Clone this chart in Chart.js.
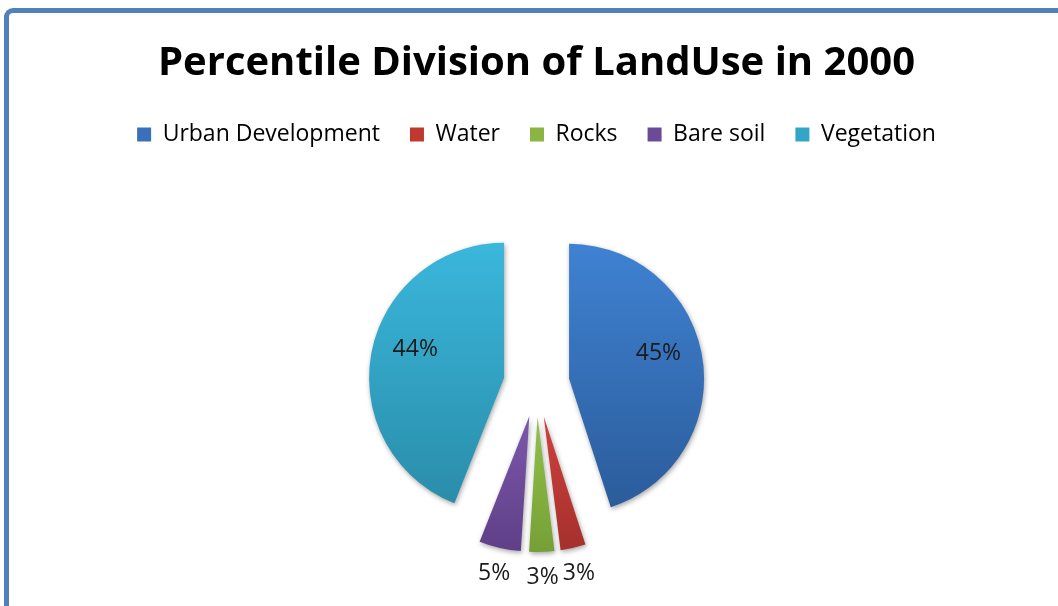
<!DOCTYPE html>
<html>
<head>
<meta charset="utf-8">
<title>Percentile Division of LandUse in 2000</title>
<script src="https://cdn.jsdelivr.net/npm/chart.js@4.4.1/dist/chart.umd.min.js"></script>
<style>
  html, body { margin: 0; padding: 0; background: #fff; overflow: hidden; }
  #frame {
    position: absolute; left: 4px; top: 8px; width: 1120px; height: 700px;
    border-left: 5px solid #4f81bd; border-top: 5px solid #4f81bd;
    border-top-left-radius: 9px;
  }
  #wrap { position: absolute; left: 0; top: 0; width: 1058px; height: 612px; }
</style>
</head>
<body>
<div id="frame"></div>
<div id="wrap"><canvas id="pieChart"></canvas></div>
<script>
// land use shares, percent of total area
var categories = ['Urban Development', 'Water', 'Rocks', 'Bare soil', 'Vegetation'];
var shares = [45, 3, 3, 5, 44];

// slice shading, light at the top of each slice and darker at the bottom
var topColors = ['#3f82d2', '#d0413d', '#93c04a', '#7c58ab', '#3ab7dc'];
var bottomColors = ['#2b5c9b', '#a5302d', '#76a036', '#5f3f88', '#2a8daa'];
var legendColors = ['#3a6fbb', '#c0392f', '#8ab443', '#6c4a9a', '#33a6c8'];

// pulls every slice out from the centre and draws its shaded wedge
var explodedPie = {
  id: 'explodedPie',
  beforeDatasetDraw: function(chart, args, opts) {
    var ctx = chart.ctx;
    args.meta.data.forEach(function(arc, i) {
      var p = arc.getProps(['x', 'y', 'startAngle', 'endAngle', 'outerRadius']);
      var mid = (p.startAngle + p.endAngle) / 2;
      var top = p.y, bottom = p.y;
      for (var k = 0; k <= 40; k++) {
        var a = p.startAngle + (p.endAngle - p.startAngle) * k / 40;
        var yy = p.y + Math.sin(a) * p.outerRadius;
        top = Math.min(top, yy);
        bottom = Math.max(bottom, yy);
      }
      var grad = ctx.createLinearGradient(0, top, 0, bottom);
      grad.addColorStop(0, topColors[i]);
      grad.addColorStop(1, bottomColors[i]);

      ctx.save();
      ctx.translate(Math.cos(mid) * opts.distance, Math.sin(mid) * opts.distance);
      ctx.shadowColor = 'rgba(0, 0, 0, 0.35)';
      ctx.shadowBlur = 5;
      ctx.shadowOffsetX = 1;
      ctx.shadowOffsetY = 2;
      ctx.beginPath();
      ctx.moveTo(p.x, p.y);
      ctx.arc(p.x, p.y, p.outerRadius, p.startAngle, p.endAngle);
      ctx.closePath();
      ctx.fillStyle = grad;
      ctx.fill();
      ctx.restore();
    });
    return false;
  },
  afterDatasetsDraw: function(chart, args, opts) {
    var ctx = chart.ctx;
    var meta = chart.getDatasetMeta(0);
    var total = shares.reduce(function(s, v) { return s + v; }, 0);
    ctx.save();
    ctx.font = '23px "Open Sans"';
    ctx.fillStyle = '#1a1a1a';
    ctx.textAlign = 'center';
    ctx.textBaseline = 'middle';
    meta.data.forEach(function(arc, i) {
      var p = arc.getProps(['x', 'y', 'startAngle', 'endAngle', 'outerRadius']);
      var mid = (p.startAngle + p.endAngle) / 2;
      var cx = p.x + Math.cos(mid) * opts.distance;
      var cy = p.y + Math.sin(mid) * opts.distance;
      var r, lift = 0;
      if (shares[i] / total >= 0.1) {
        r = p.outerRadius * 0.67;
        lift = 11;
      } else {
        r = p.outerRadius + 26;
      }
      ctx.fillText(shares[i] + '%', cx + Math.cos(mid) * r, cy + Math.sin(mid) * r - lift);
    });
    ctx.restore();
  }
};

Chart.defaults.font.family = '"Open Sans", sans-serif';

var ctx = document.getElementById('pieChart').getContext('2d');
var pieChart = new Chart(ctx, {
  type: 'pie',
  data: {
    labels: categories,
    datasets: [{
      data: shares,
      backgroundColor: legendColors,
      borderWidth: 0,
      radius: 135
    }]
  },
  options: {
    responsive: true,
    maintainAspectRatio: false,
    animation: false,
    events: [],
    layout: { padding: { left: 15, right: 0, top: 0, bottom: 0 } },
    plugins: {
      explodedPie: { distance: 33 },
      tooltip: { enabled: false },
      title: {
        display: true,
        text: 'Percentile Division of LandUse in 2000',
        color: '#000',
        font: { size: 40, weight: 'bold' },
        padding: { top: 40, bottom: 5 }
      },
      legend: {
        position: 'top',
        labels: {
          color: '#262626',
          font: { size: 23 },
          boxWidth: 14,
          boxHeight: 14,
          padding: 30,
          generateLabels: function(chart) {
            return categories.map(function(name, i) {
              return {
                text: name,
                fillStyle: legendColors[i],
                strokeStyle: legendColors[i],
                lineWidth: 0,
                hidden: false,
                index: i
              };
            });
          }
        }
      }
    }
  },
  plugins: [explodedPie]
});
</script>
</body>
</html>
